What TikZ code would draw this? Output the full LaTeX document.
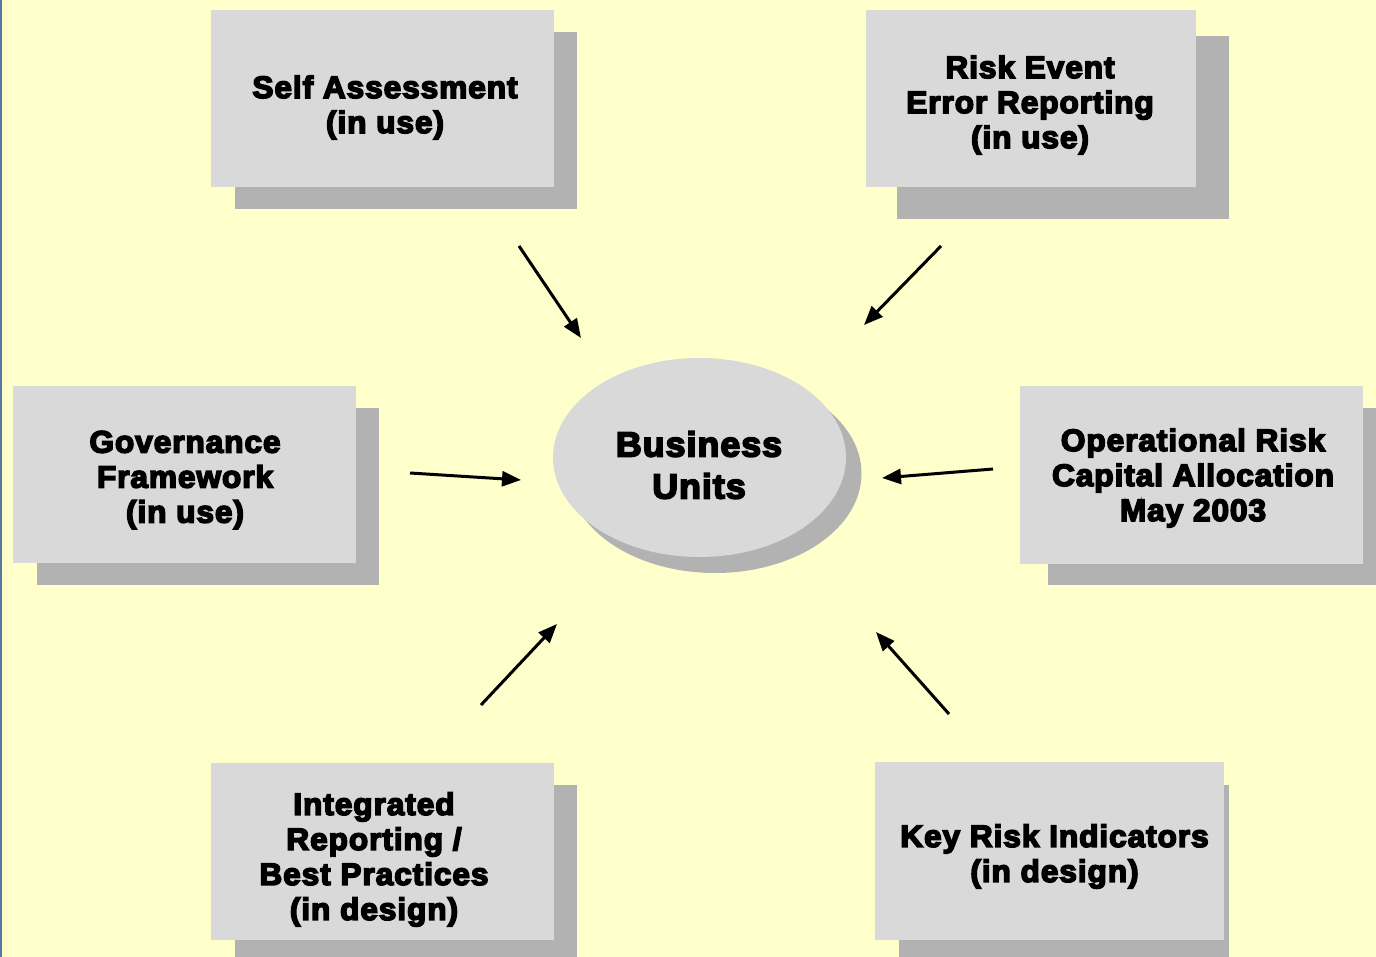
\documentclass[tikz,border=0pt]{standalone}
\usepackage{fontspec}
\newfontfamily\heavy{Liberation Sans}[FakeStretch=1.02,LetterSpace=3,BoldFeatures={FakeBold=5}]
\usetikzlibrary{arrows.meta,shapes.geometric}
\definecolor{bgyellow}{HTML}{FFFFCC}
\definecolor{boxgray}{HTML}{D9D9D9}
\definecolor{shadowgray}{HTML}{B2B2B2}
\definecolor{edgeblue}{HTML}{5878A0}
\begin{document}
\begin{tikzpicture}[x=1pt,y=-1pt,
  boxface/.style={fill=boxgray,draw=none},
  boxshadow/.style={fill=shadowgray,draw=none},
  lbl/.style={font=\heavy\bfseries\fontsize{31}{35}\selectfont, align=center, inner sep=0pt},
  biglbl/.style={font=\heavy\bfseries\fontsize{35}{42}\selectfont, align=center, inner sep=0pt},
  arr/.style={line width=3pt,-{Triangle[length=19pt,width=15pt]}}]
\useasboundingbox (0,0) rectangle (1376,957);
\fill[bgyellow] (0,0) rectangle (1376,957);
\fill[edgeblue] (0,0) rectangle (2,957);

% Self Assessment
\fill[boxshadow] (235,32) rectangle (577,209);
\fill[boxface] (211,10) rectangle (554,187);
\node[lbl] (self) at (385,107.5) {Self Assessment\\(in use)};

% Risk Event
\fill[boxshadow] (897,36) rectangle (1229,219);
\fill[boxface] (866,10) rectangle (1196,187);
\node[lbl] (risk) at (1030,105) {Risk Event\\Error Reporting\\(in use)};

% Governance
\fill[boxshadow] (37,408) rectangle (379,585);
\fill[boxface] (13,386) rectangle (356,563);
\node[lbl] (gov) at (185,480) {Governance\\Framework\\(in use)};

% Operational Risk
\fill[boxshadow] (1048,408) rectangle (1376,585);
\fill[boxface] (1020,386) rectangle (1363,564);
\node[lbl] (oprisk) at (1193,478) {Operational Risk\\Capital Allocation\\May 2003};

% Integrated Reporting
\fill[boxshadow] (235,785) rectangle (577,957);
\fill[boxface] (211,763) rectangle (554,940);
\node[lbl] (integ) at (374,859.5) {Integrated\\Reporting /\\Best Practices\\(in design)};

% Key Risk Indicators
\fill[boxshadow] (899,785) rectangle (1229,957);
\fill[boxface] (875,762) rectangle (1224,940);
\node[lbl] (kri) at (1054.5,856.5) {Key Risk Indicators\\(in design)};

% Business Units
\fill[shadowgray] (715,473.5) ellipse [x radius=146.5pt, y radius=99.5pt];
\node[ellipse, fill=boxgray, draw=none, minimum width=293pt, minimum height=199pt, inner sep=0pt] (bushape) at (699.5,457.5) {};
\node[biglbl] (bu) at (699,465) {Business\\Units};

% arrows
\coordinate (a1s) at (519,246); \coordinate (a1e) at (581,338);
\coordinate (a2s) at (941,246); \coordinate (a2e) at (864,325);
\coordinate (a3s) at (410,473); \coordinate (a3e) at (521,480);
\coordinate (a4s) at (993,469); \coordinate (a4e) at (882,478);
\coordinate (a5s) at (481,705); \coordinate (a5e) at (557,624);
\coordinate (a6s) at (949,714); \coordinate (a6e) at (876,632);
\draw[arr] (a1s) -- (a1e);
\draw[arr] (a2s) -- (a2e);
\draw[arr] (a3s) -- (a3e);
\draw[arr] (a4s) -- (a4e);
\draw[arr] (a5s) -- (a5e);
\draw[arr] (a6s) -- (a6e);
\end{tikzpicture}
\end{document}
